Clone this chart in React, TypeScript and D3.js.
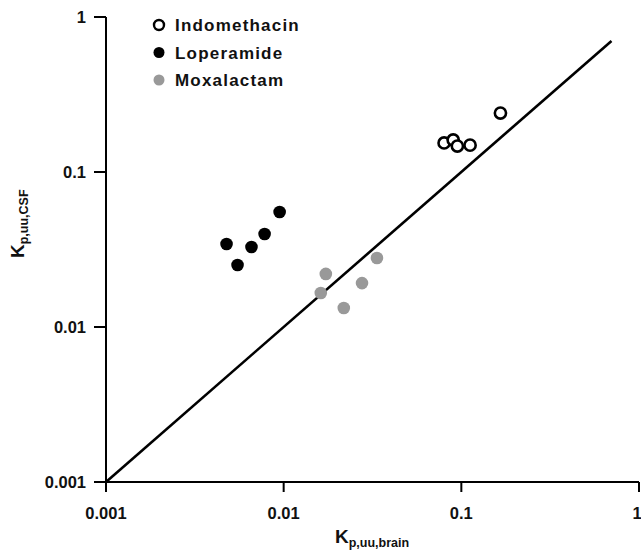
import React from "react";
import * as d3 from "d3";

const indoX = [0.080, 0.090, 0.095, 0.112, 0.166];
const indoY = [0.154, 0.161, 0.147, 0.149, 0.240];
const lopeX = [0.00477, 0.0055, 0.00659, 0.00781, 0.00949];
const lopeY = [0.0343, 0.0251, 0.0328, 0.0398, 0.0552];
const moxaX = [0.01727, 0.01618, 0.0218, 0.0276, 0.0335];
const moxaY = [0.022, 0.01657, 0.01327, 0.0192, 0.0279];
const tickValues = [0.001, 0.01, 0.1, 1];
const tickLabels = ["0.001", "0.01", "0.1", "1"];
const identityLine = [0.001, 0.7];
const legendNames = ["Indomethacin", "Loperamide", "Moxalactam"];

export default function App() {
  const W = 641, H = 560;
  const x = d3.scaleLog().domain([0.001, 1]).range([106, 639]);
  const y = d3.scaleLog().domain([0.001, 1]).range([482, 17]);
  const font = "'Liberation Sans', Arial, sans-serif";
  const line = d3.line<number>().x((d) => x(d)).y((d) => y(d));
  const gray = "#999999";

  const series = [
    { xs: indoX, ys: indoY, fill: "white", stroke: "#000", sw: 2.6, r: 5.6 },
    { xs: lopeX, ys: lopeY, fill: "#000", stroke: "none", sw: 0, r: 6.3 },
    { xs: moxaX, ys: moxaY, fill: gray, stroke: "none", sw: 0, r: 6.3 },
  ];

  return (
    <svg width={W} height={H} style={{ position: "absolute", left: 0, top: 0 }} fontFamily={font}>
      <rect width={W} height={H} fill="white" />
      {/* axes */}
      <line x1={x(0.001)} x2={x(1)} y1={y(0.001)} y2={y(0.001)} stroke="#000" strokeWidth={2} />
      <line x1={x(0.001)} x2={x(0.001)} y1={y(0.001)} y2={y(1)} stroke="#000" strokeWidth={2} />
      {tickValues.map((t, i) => (
        <g key={"xt" + i}>
          <line x1={x(t)} x2={x(t)} y1={y(0.001)} y2={y(0.001) + 10} stroke="#000" strokeWidth={2} />
          <text x={i === 3 ? x(t) - 2 : x(t)} y={y(0.001) + 37} textAnchor="middle" fontSize={16.5} fontWeight="bold" fill="#111">
            {tickLabels[i]}
          </text>
        </g>
      ))}
      {tickValues.map((t, i) => (
        <g key={"yt" + i}>
          <line x1={x(0.001) - 12} x2={x(0.001)} y1={y(t)} y2={y(t)} stroke="#000" strokeWidth={2} />
          <text x={86} y={y(t) + 6} textAnchor="end" fontSize={16.5} fontWeight="bold" fill="#111">
            {tickLabels[i]}
          </text>
        </g>
      ))}
      {/* identity line */}
      <path d={line(identityLine) || ""} stroke="#000" strokeWidth={2.6} fill="none" />
      {/* points */}
      {series.map((s, si) =>
        s.xs.map((xv, i) => (
          <circle key={si + "-" + i} cx={x(xv)} cy={y(s.ys[i])} r={s.r} fill={s.fill} stroke={s.stroke} strokeWidth={s.sw} />
        ))
      )}
      {/* legend */}
      {legendNames.map((n, i) => {
        const s = series[i];
        const ly = 25 + i * 27.5;
        return (
          <g key={"lg" + i}>
            <circle cx={159} cy={ly} r={i === 0 ? 5 : 5.5} fill={s.fill} stroke={s.stroke} strokeWidth={i === 0 ? 2.4 : 0} />
            <text x={175} y={ly + 6.2} fontSize={17} fontWeight="bold" letterSpacing={1.2} fill="#111">
              {n}
            </text>
          </g>
        );
      })}
      {/* axis titles */}
      <text x={335} y={543} fontSize={19} fontWeight="bold" fill="#111">
        K<tspan fontSize={12.5} dy={4}>p,uu,brain</tspan>
      </text>
      <text transform="translate(24,258) rotate(-90)" fontSize={19} fontWeight="bold" fill="#111">
        K<tspan fontSize={12.5} dy={4}>p,uu,CSF</tspan>
      </text>
    </svg>
  );
}
